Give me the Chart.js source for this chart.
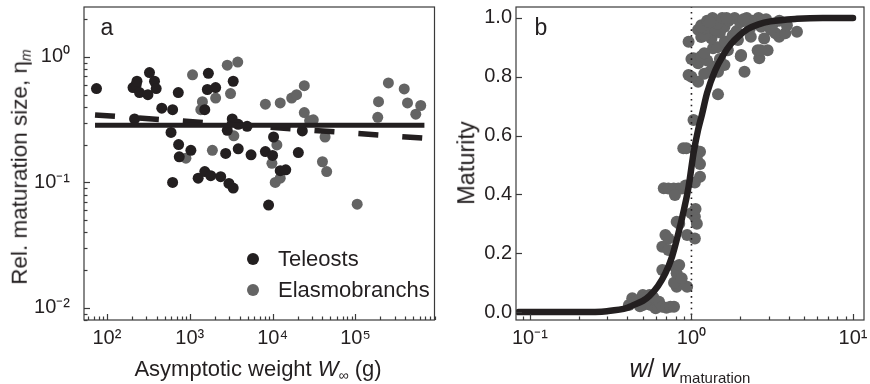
<!DOCTYPE html>
<html>
<head>
<meta charset="utf-8">
<script src="https://cdn.jsdelivr.net/npm/chart.js@4/dist/chart.umd.min.js"></script>
<style>
  body { margin: 0; width: 870px; height: 384px; position: relative; overflow: hidden; background: #fff;
         font-family: "Liberation Sans", Arial, sans-serif; color: #231f20; }
  canvas { position: absolute; top: 0; }
  #ca { left: 0; }
  #cb { left: 440px; }
  .t { position: absolute; white-space: nowrap; font-size: 22px; line-height: 1; }
  .c { transform: translate(-50%, -50%); }
  .r { transform: translate(-50%, -50%) rotate(-90deg); }
  .dot { position: absolute; width: 12px; height: 12px; border-radius: 50%; transform: translate(-50%, -50%); }
  sub { font-size: 14px; vertical-align: -4px; line-height: 0; }
</style>
</head>
<body>
<canvas id="ca" width="440" height="384"></canvas>
<canvas id="cb" width="430" height="384"></canvas>

<div class="t c" style="left:107px;top:27px;font-size:23px">a</div>
<div class="t c" style="left:541px;top:27px;font-size:23px">b</div>

<div class="dot" style="left:253px;top:259px;background:#231f20"></div>
<div class="t" style="left:278px;top:248px">Teleosts</div>
<div class="dot" style="left:253px;top:290px;background:#646464"></div>
<div class="t" style="left:278px;top:279px">Elasmobranchs</div>

<div class="t r" style="left:20px;top:167px;font-size:22.5px">Rel. maturation size, η<sub><i>m</i></sub></div>
<div class="t c" style="left:258px;top:369px">Asymptotic weight <i>W</i><sub>∞</sub> (g)</div>
<div class="t r" style="left:467px;top:163px;font-size:23.5px">Maturity</div>
<div class="t c" style="left:690px;top:368px;font-size:25px"><i>w</i>/ <i>w</i><sub style="font-size:15px;vertical-align:-6px">maturation</sub></div>

<script>
const INK = "#231f20", GREY = "#646464";

// panel a: relative maturation size vs asymptotic weight
const teleostW = [75, 207, 226, 231, 248, 313, 327, 376, 394, 460, 728, 622, 216, 595, 735, 748, 1033, 622,
  1265, 1520, 1795, 2366, 2974, 3350, 1680, 1633, 2056, 1520, 3350, 3260, 2840, 3850, 4930, 2716, 3850,
  5500, 8190, 10000, 10280, 12370, 14430, 20460, 22860, 8950];
const teleostEta = [0.56, 0.57, 0.60, 0.64, 0.52, 0.50, 0.75, 0.64, 0.56, 0.39, 0.52, 0.38, 0.32, 0.25, 0.20, 0.16,
  0.18, 0.10, 0.108, 0.122, 0.113, 0.111, 0.098, 0.09, 0.74, 0.55, 0.57, 0.38, 0.64, 0.32, 0.26, 0.29, 0.28,
  0.17, 0.185, 0.166, 0.176, 0.164, 0.23, 0.124, 0.126, 0.173, 0.257, 0.066];
const elasmoW = [1082, 1423, 1362, 2056, 2840, 3800, 3110, 3410, 1877, 900, 8190, 12370, 17000, 19500, 24150,
  24150, 31000, 28000, 250000, 388000, 190000, 425000, 614000, 535000, 186000, 11270, 9820, 10770, 12370,
  40000, 45000, 43000, 105000];
const elasmoEta = [0.72, 0.44, 0.38, 0.47, 0.86, 0.91, 0.51, 0.235, 0.18, 0.156, 0.42, 0.43, 0.47, 0.50, 0.59,
  0.36, 0.315, 0.31, 0.62, 0.556, 0.44, 0.43, 0.41, 0.35, 0.33, 0.199, 0.142, 0.10, 0.108,
  0.146, 0.122, 0.23, 0.067];
const fitW = [72, 680000];
const fitSolid = [0.286, 0.286];
const fitDashed = [0.345, 0.225];

const xTicksA = [1e2, 1e3, 1e4, 1e5];
const xLabelsA = ["10²", "10³", "10⁴", "10⁵"];
const yTicksA = [0.01, 0.1, 1];
const yLabelsA = ["10⁻²", "10⁻¹", "10⁰"];

// panel b: maturity ogive
const matW = [0.41, 0.43, 0.45, 0.48, 0.50, 0.50, 0.53, 0.55, 0.56, 0.58, 0.60, 0.62, 0.63, 0.66, 0.70, 0.74, 0.78,
  0.81, 0.78, 0.94,
  0.66, 0.79, 0.81, 0.87, 0.84, 0.66, 0.72, 0.69, 0.72, 0.94, 1.05, 0.81, 0.84, 1.0, 1.05, 1.08, 1.06,
  0.674, 0.72, 0.776, 0.83, 0.87, 0.79, 0.92, 1.13, 1.05,
  0.89, 0.93, 1.05, 1.13, 1.13, 1.08, 1.03, 1.46,
  0.96, 1.10, 1.30, 1.46, 2.13, 1.0, 1.2,
  1.03, 1.10, 1.2, 1.36, 1.0, 1.15, 1.25, 1.5, 2.02, 2.63, 1.6,
  1.36, 1.68, 2.03, 2.57, 2.96, 1.2, 1.45, 2.68,
  0.96, 1.33, 1.61, 1.94, 2.33, 2.82, 3.49, 4.5, 3.31, 3.81, 1.15, 1.25, 1.5, 1.8,
  1.10, 1.2, 1.2, 1.4, 1.6, 1.9, 2.3, 2.7, 3.1, 1.15,
  1.15, 1.25, 1.35, 1.45, 1.55, 1.7, 1.85, 2.0, 2.2, 2.4, 2.6, 2.9, 3.2, 3.5, 3.9, 1.3, 1.65, 2.1, 2.75];
const matM = [0.024, 0.047, 0.035, 0.02, 0.058, 0.024, 0.04, 0.058, 0.024, 0.05, 0.013, 0.02, 0.035, 0.018, 0.015,
  0.018, 0.018, 0.086, 0.1, 0.086,
  0.143, 0.154, 0.132, 0.115, 0.16, 0.222, 0.211, 0.262, 0.25, 0.262, 0.25, 0.307, 0.30, 0.336, 0.324, 0.30, 0.35,
  0.421, 0.42, 0.42, 0.42, 0.42, 0.398, 0.43, 0.46, 0.44,
  0.557, 0.557, 0.551, 0.545, 0.503, 0.52, 0.653, 0.74,
  0.806, 0.783, 0.817, 0.817, 0.817, 0.80, 0.81,
  0.863, 0.846, 0.868, 0.834, 0.86, 0.87, 0.855, 0.86, 0.87, 0.863, 0.84,
  0.897, 0.89, 0.874, 0.89, 0.89, 0.88, 0.90, 0.89,
  0.919, 0.93, 0.92, 0.925, 0.936, 0.93, 0.936, 0.953, 0.948, 0.948, 0.935, 0.945, 0.95, 0.94,
  0.96, 0.94, 0.965, 0.96, 0.97, 0.955, 0.965, 0.97, 0.96, 0.975,
  0.97, 0.99, 1.0, 0.98, 1.0, 0.99, 1.0, 0.985, 1.0, 0.99, 1.0, 0.995, 0.98, 0.99, 0.975, 0.985, 1.0, 0.995, 0.99];
const curveW = [0.085, 0.2, 0.3, 0.4, 0.43, 0.5, 0.55, 0.62, 0.69, 0.76, 0.83, 0.9, 0.96, 1.03, 1.1, 1.16, 1.25,
  1.4, 1.58, 1.76, 2.0, 2.23, 2.6, 3.08, 4.5, 6.5, 10];
const curveM = [0.0, 0.0, 0.003, 0.014, 0.022, 0.038, 0.055, 0.088, 0.132, 0.19, 0.268, 0.35, 0.426, 0.54, 0.62,
  0.67, 0.745, 0.82, 0.875, 0.912, 0.942, 0.962, 0.978, 0.988, 0.997, 1.0, 1.0];
const refW = [1, 1];
const refM = [-0.03, 1.04];

const xTicksB = [0.1, 1, 10];
const xLabelsB = ["10⁻¹", "10⁰", "10¹"];
const yTicksB = [0, 0.2, 0.4, 0.6, 0.8, 1.0];
const yLabelsB = ["0.0", "0.2", "0.4", "0.6", "0.8", "1.0"];

const pts = (xs, ys) => xs.map((x, i) => ({ x, y: ys[i] }));

function logMinors(min, max) {
  const out = [];
  for (let d = Math.floor(Math.log10(min)); d <= Math.ceil(Math.log10(max)); d++) {
    for (let k = 1; k <= 9; k++) {
      const v = k * Math.pow(10, d);
      if (v >= min && v <= max) out.push(v);
    }
  }
  return out;
}

function axis(type, min, max, majors, labels, opts) {
  const same = (a, b) => Math.abs(a - b) <= 1e-9 * Math.max(1, Math.abs(b));
  return {
    type, min, max, bounds: "data",
    grid: { display: false, drawTicks: false },
    border: { display: false },
    afterBuildTicks: s => {
      const vals = type === "logarithmic" ? logMinors(min, max) : majors.slice();
      s.ticks = vals.map(v => ({ value: v }));
    },
    afterFit: s => {
      if (opts.width) s.width = opts.width;
      if (opts.height) s.height = opts.height;
      s.paddingTop = s.paddingBottom = s.paddingLeft = s.paddingRight = 0;
    },
    ticks: {
      autoSkip: false, maxRotation: 0, padding: opts.pad, color: INK,
      font: { size: 20, family: "'Liberation Sans', Arial, sans-serif" },
      callback: v => { const j = majors.findIndex(m => same(v, m)); return j >= 0 ? labels[j] : ""; },
    },
  };
}

// box plus inward tick marks, as in the original figure
const frame = {
  id: "frame",
  afterDatasetsDraw(chart) {
    const { ctx, chartArea: a } = chart;
    ctx.save();
    ctx.strokeStyle = "#3a3a3a";
    ctx.lineWidth = 1.2;
    ctx.strokeRect(a.left, a.top, a.right - a.left, a.bottom - a.top);
    [chart.scales.x, chart.scales.y].forEach(s => {
      s.ticks.forEach(t => {
        const p = Math.round(s.getPixelForValue(t.value)) + 0.5;
        const len = t.label ? 6 : 3.5;
        ctx.beginPath();
        if (s.axis === "x") { ctx.moveTo(p, a.bottom); ctx.lineTo(p, a.bottom - len); }
        else { ctx.moveTo(a.left, p); ctx.lineTo(a.left + len, p); }
        ctx.stroke();
      });
    });
    ctx.restore();
  },
};

const base = {
  responsive: false, animation: false, events: [],
  plugins: { legend: { display: false }, tooltip: { enabled: false } },
};

new Chart(document.getElementById("ca"), {
  type: "scatter",
  data: { datasets: [
    { data: pts(fitW, fitSolid), showLine: true, pointRadius: 0, borderColor: INK, borderWidth: 5 },
    { data: pts(fitW, fitDashed), showLine: true, pointRadius: 0, borderColor: INK, borderWidth: 5.5,
      borderDash: [20, 24] },
    { data: pts(teleostW, teleostEta), pointRadius: 5.5, backgroundColor: INK, borderWidth: 0 },
    { data: pts(elasmoW, elasmoEta), pointRadius: 5.5, backgroundColor: GREY, borderWidth: 0 },
  ]},
  options: { ...base,
    layout: { padding: { left: 0, top: 7, right: 3, bottom: 0 } },
    scales: {
      x: axis("logarithmic", 53, 9e5, xTicksA, xLabelsA, { pad: 6, height: 64 }),
      y: axis("logarithmic", 0.008, 2.5, yTicksA, yLabelsA, { pad: 14, width: 84 }),
    },
  },
  plugins: [frame],
});

new Chart(document.getElementById("cb"), {
  type: "scatter",
  data: { datasets: [
    { data: pts(curveW, curveM), showLine: true, pointRadius: 0, borderColor: INK, borderWidth: 6.5,
      borderCapStyle: "round", cubicInterpolationMode: "monotone" },
    { data: pts(refW, refM), showLine: true, pointRadius: 0, borderColor: INK, borderWidth: 1.6,
      borderDash: [1.6, 4.2] },
    { data: pts(matW, matM), pointRadius: 6, backgroundColor: GREY, borderWidth: 0 },
  ]},
  options: { ...base,
    layout: { padding: { left: 0, top: 7, right: 2, bottom: 0 } },
    scales: {
      x: axis("logarithmic", 0.082, 11.7, xTicksB, xLabelsB, { pad: 6, height: 64 }),
      y: axis("linear", -0.027, 1.037, yTicksB, yLabelsB, { pad: 4, width: 76 }),
    },
  },
  plugins: [frame],
});
</script>
</body>
</html>
